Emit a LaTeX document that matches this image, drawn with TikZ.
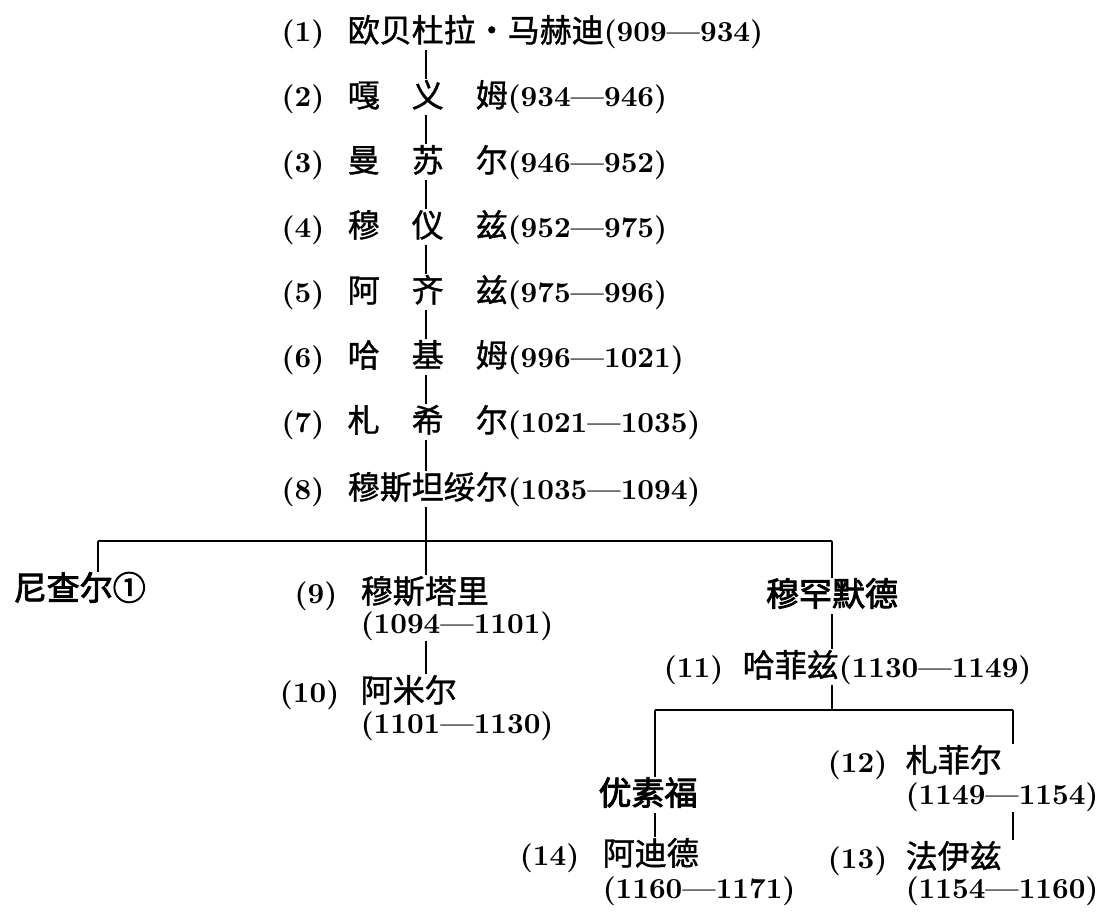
\documentclass[tikz,border=0pt]{standalone}
\usepackage{fontspec}
\newfontfamily\cjk{Noto Sans CJK SC}[FakeBold=1.2]
\newfontfamily\cjkheavy{Noto Sans CJK SC}[FakeBold=2.6]
\newfontfamily\numfont{lmroman10-bold.otf}
\newcommand{\cn}[1]{{\cjk\fontsize{32}{36}\selectfont #1}}
\newcommand{\spread}[3]{\makebox[5em][s]{#1\hfill #2\hfill #3}}
\newcommand{\middot}{\makebox[1em]{·}}
\tikzset{
	txt/.style={inner xsep=0pt, inner ysep=3.5pt, text height=24pt, text depth=4pt, font=\numfont\fontsize{29}{34}\selectfont},
	who/.style={txt, anchor=west},
	num/.style={txt, anchor=east},
	heir/.style={txt, font=\cjkheavy\fontsize{33}{36}\selectfont},
	bar/.style={line width=2.6pt}
}

\begin{document}
\begin{tikzpicture}[x=1pt, y=-1pt, line width=1.5pt]
	\useasboundingbox (0,0) rectangle (1100,923);
	\coordinate (spine) at (426,0);
	\coordinate (b1l) at (98,541);
	\coordinate (b1r) at (832,541);
	\coordinate (b2l) at (655,710);
	\coordinate (b2r) at (1013,710);

	\node[who] (r1) at (347,32) {\cn{欧贝杜拉\middot 马赫迪}(909—934)};
	\node[who] (r2) at (347,97) {\cn{\spread{嘎}{义}{姆}}(934—946)};
	\node[who] (r3) at (347,162) {\cn{\spread{曼}{苏}{尔}}(946—952)};
	\node[who] (r4) at (347,227) {\cn{\spread{穆}{仪}{兹}}(952—975)};
	\node[who] (r5) at (347,292) {\cn{\spread{阿}{齐}{兹}}(975—996)};
	\node[who] (r6) at (347,357) {\cn{\spread{哈}{基}{姆}}(996—1021)};
	\node[who] (r7) at (347,422) {\cn{\spread{札}{希}{尔}}(1021—1035)};
	\node[who] (r8) at (347,489) {\cn{穆斯坦绥尔}(1035—1094)};
	\foreach \i in {1,...,8}
		\node[num] (r\i n) at ([xshift=-22pt]r\i.west) {(\i)};
	\foreach \a/\b in {r1/r2,r2/r3,r3/r4,r4/r5,r5/r6,r6/r7,r7/r8}
		\draw (\a.south -| spine) -- (\b.north -| spine);

	\node[heir, anchor=west] (nzr) at (13,590) {尼查尔①};
	\node[who] (m9) at (360,593) {\cn{穆斯塔里}};
	\node[num] (m9n) at (338,593) {(9)};
	\node[who] (m9d) at (360,623) {(1094—1101)};
	\node[who] (m10) at (360,692) {\cn{阿米尔}};
	\node[num] (m10n) at (340,692) {(10)};
	\node[who] (m10d) at (360,723) {(1101—1130)};
	\node[heir] (mhm) at (832,596) {穆罕默德};
	\node[who] (m11) at (742,667) {\cn{哈菲兹}(1130—1149)};
	\node[num] (m11n) at (724,667) {(11)};

	\node[heir] (ysf) at (648,795) {优素福};
	\node[who] (m14) at (602,855) {\cn{阿迪德}};
	\node[num] (m14n) at (580,855) {(14)};
	\node[who] (m14d) at (602,888) {(1160—1171)};
	\node[who] (m12) at (905,762) {\cn{札菲尔}};
	\node[num] (m12n) at (888,762) {(12)};
	\node[who] (m12d) at (905,794) {(1149—1154)};
	\node[who] (m13) at (905,858) {\cn{法伊兹}};
	\node[num] (m13n) at (888,858) {(13)};
	\node[who] (m13d) at (905,888) {(1154—1160)};

	\draw (r8.south -| spine) -- (spine |- b1l);
	\draw[bar] (b1l) -- (b1r);
	\draw (b1l) -- (nzr.north -| b1l);
	\draw (spine |- b1l) -- (m9.north -| spine);
	\draw (b1r) -- (mhm.north -| b1r);
	\draw (m9d.south -| spine) -- (m10.north -| spine);
	\draw (mhm.south -| b1r) -- (m11.north -| b1r);
	\draw (m11.south -| b1r) -- (b1r |- b2l);
	\draw[bar] (b2l) -- (b2r);
	\draw (b2l) -- (ysf.north -| b2l);
	\draw (b2r) -- (m12.north -| b2r);
	\draw (ysf.south -| b2l) -- (m14.north -| b2l);
	\draw (m12d.south -| b2r) -- (m13.north -| b2r);
\end{tikzpicture}
\end{document}
